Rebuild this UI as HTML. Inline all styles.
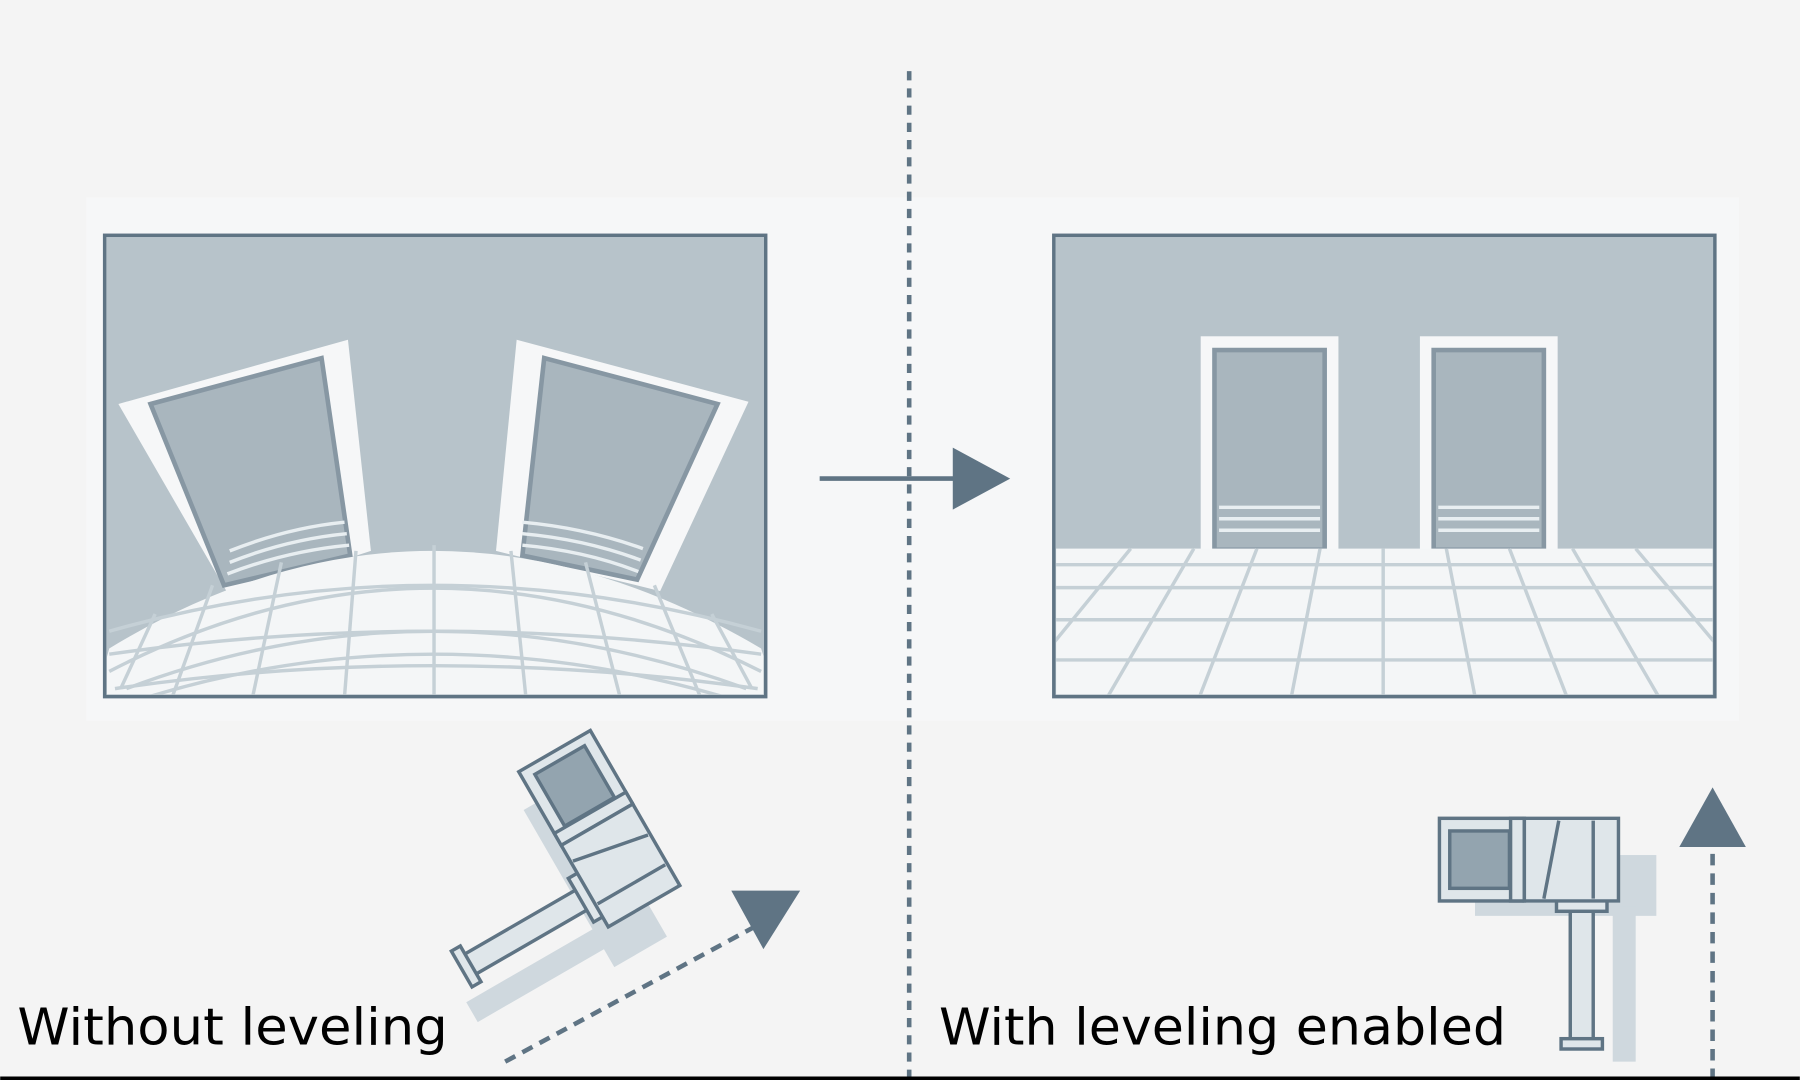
<!DOCTYPE html>
<html><head><meta charset="utf-8"><style>
html,body{margin:0;padding:0;background:#f4f4f4;}
svg{display:block}
</style></head><body>
<svg width="1800" height="1080" viewBox="0 0 1568 941" xmlns="http://www.w3.org/2000/svg">
<rect x="0" y="0" width="1568" height="941" fill="#f4f4f4"/>
<rect x="75" y="172" width="1440" height="456" fill="#f6f7f8"/>
<defs>
<clipPath id="cl"><rect x="93" y="207" width="572" height="398"/></clipPath>
<clipPath id="cr"><rect x="920" y="207" width="572" height="398"/></clipPath>
<g id="cam">
 <g fill="#cfd8de"><rect x="1285" y="745" width="158" height="53"/><rect x="1405" y="790" width="20" height="135"/></g>
 <g stroke="#5f7484" stroke-width="3" fill="#dfe6ea">
  <rect x="1368" y="782" width="20" height="130"/>
  <rect x="1360" y="905" width="36" height="9"/>
  <rect x="1356" y="784" width="44" height="10"/>
  <rect x="1254" y="713" width="72" height="72"/>
  <rect x="1263" y="724" width="52" height="50" fill="#93a4af"/>
  <rect x="1316" y="713" width="12" height="72"/>
  <polygon points="1328,713 1410,713 1410,785 1328,785"/>
  <line x1="1358" y1="715" x2="1345" y2="783"/>
  <line x1="1388" y1="715" x2="1388" y2="783"/>
 </g>
</g>
</defs>
<!-- LEFT IMAGE -->
<rect x="91" y="205" width="576" height="402" fill="#b7c3ca"/>
<g clip-path="url(#cl)">
 <polygon points="103,352 303,296 323,480 200,520" fill="#f6f7f8"/>
 <polygon points="131,352 280,312 305,484 195,510" fill="#a9b6be" stroke="#8797a3" stroke-width="4"/>
 <polygon points="450,296 652,350 575,515 432,480" fill="#f6f7f8"/>
 <polygon points="474,312 625,352 555,505 455,484" fill="#a9b6be" stroke="#8797a3" stroke-width="4"/>
 <g stroke="#e8eef1" stroke-width="3" fill="none">
  <path d="M200,480 Q250,460 300,455"/><path d="M200,490 Q250,470 302,465"/><path d="M198,500 Q250,480 304,475"/>
  <path d="M455,455 Q510,460 560,478"/><path d="M455,465 Q510,470 558,488"/><path d="M455,475 Q510,480 556,498"/>
 </g>
 <path d="M80,620 L95,565 Q375,395 663,565 L680,620 Z" fill="#f4f6f7"/>
 <g stroke="#c5d0d6" stroke-width="3" fill="none">
  <path d="M95,585 Q375,440 663,585"/><path d="M95,550 Q375,470 663,550"/>
  <path d="M110,600 Q375,500 650,600"/><path d="M120,610 Q375,530 640,610"/>
  <path d="M95,570 Q375,530 663,570"/><path d="M100,600 Q375,560 660,600"/>
  <line x1="378" y1="475" x2="378" y2="607"/>
  <line x1="310" y1="480" x2="300" y2="607"/><line x1="245" y1="490" x2="220" y2="607"/>
  <line x1="185" y1="510" x2="150" y2="607"/><line x1="135" y1="535" x2="105" y2="600"/>
  <line x1="445" y1="480" x2="458" y2="607"/><line x1="510" y1="490" x2="540" y2="607"/>
  <line x1="570" y1="510" x2="610" y2="607"/><line x1="620" y1="535" x2="655" y2="600"/>
 </g>
</g>
<rect x="91" y="205" width="576" height="402" fill="none" stroke="#5f7484" stroke-width="3"/>
<!-- RIGHT IMAGE -->
<rect x="918" y="205" width="576" height="402" fill="#b7c3ca"/>
<g clip-path="url(#cr)">
 <rect x="1046" y="293" width="120" height="186" fill="#f6f7f8"/>
 <rect x="1058" y="305" width="96" height="174" fill="#a9b6be" stroke="#8797a3" stroke-width="4"/>
 <rect x="1237" y="293" width="120" height="186" fill="#f6f7f8"/>
 <rect x="1249" y="305" width="96" height="174" fill="#a9b6be" stroke="#8797a3" stroke-width="4"/>
 <g stroke="#e8eef1" stroke-width="3">
  <line x1="1062" y1="442" x2="1150" y2="442"/><line x1="1062" y1="452" x2="1150" y2="452"/><line x1="1062" y1="462" x2="1150" y2="462"/>
  <line x1="1253" y1="442" x2="1341" y2="442"/><line x1="1253" y1="452" x2="1341" y2="452"/><line x1="1253" y1="462" x2="1341" y2="462"/>
 </g>
 <rect x="918" y="478" width="576" height="130" fill="#f4f6f7"/>
 <g stroke="#c5d0d6" stroke-width="3">
  <line x1="918" y1="492" x2="1494" y2="492"/><line x1="918" y1="512" x2="1494" y2="512"/>
  <line x1="918" y1="540" x2="1494" y2="540"/><line x1="918" y1="575" x2="1494" y2="575"/>
  <line x1="1205" y1="478" x2="1205" y2="607"/>
  <line x1="1150" y1="478" x2="1125" y2="607"/><line x1="1095" y1="478" x2="1045" y2="607"/>
  <line x1="1040" y1="478" x2="965" y2="607"/><line x1="985" y1="478" x2="918" y2="560"/>
  <line x1="1260" y1="478" x2="1285" y2="607"/><line x1="1315" y1="478" x2="1365" y2="607"/>
  <line x1="1370" y1="478" x2="1445" y2="607"/><line x1="1425" y1="478" x2="1494" y2="560"/>
 </g>
</g>
<rect x="918" y="205" width="576" height="402" fill="none" stroke="#5f7484" stroke-width="3"/>
<!-- divider -->
<line x1="792" y1="62" x2="792" y2="941" stroke="#5f7484" stroke-width="4" stroke-dasharray="8,7"/>
<line x1="714" y1="417" x2="835" y2="417" stroke="#5f7484" stroke-width="4"/>
<polygon points="830,390 880,417 830,444" fill="#5f7484"/>
<!-- left camera: rotated copy -->
<use href="#cam" transform="translate(522,722) rotate(60) translate(-1332,-749)"/>
<line x1="440" y1="925" x2="662" y2="805" stroke="#5f7484" stroke-width="4" stroke-dasharray="10,7"/>
<polygon points="637,776 697,776 665,827" fill="#5f7484"/>
<!-- right camera -->
<use href="#cam"/>
<line x1="1492" y1="941" x2="1492" y2="740" stroke="#5f7484" stroke-width="4" stroke-dasharray="10,7"/>
<polygon points="1463,738 1521,738 1492,686" fill="#5f7484"/>
<text x="15" y="910" font-family="'DejaVu Sans','Liberation Sans',sans-serif" font-size="44" fill="#000" textLength="375" lengthAdjust="spacingAndGlyphs">Without leveling</text>
<text x="818" y="910" font-family="'DejaVu Sans','Liberation Sans',sans-serif" font-size="44" fill="#000" textLength="494" lengthAdjust="spacingAndGlyphs">With leveling enabled</text>
<line x1="0" y1="939.5" x2="1568" y2="939.5" stroke="#000" stroke-width="3"/>
</svg>
</body></html>
